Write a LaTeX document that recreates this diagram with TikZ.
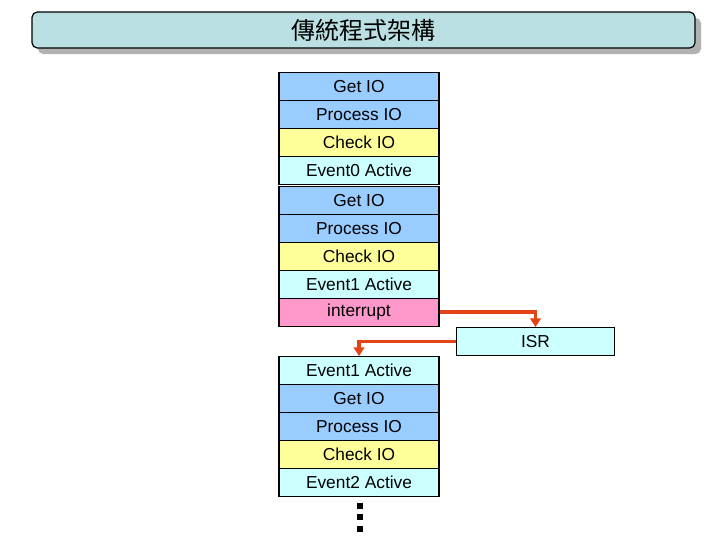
\documentclass[tikz,border=0pt]{standalone}
\usepackage{fontspec}
\setmainfont{Liberation Sans}
\newfontfamily\cjk{Noto Sans CJK TC}
\usetikzlibrary{arrows.meta}
\definecolor{cblue}{RGB}{153,204,255}
\definecolor{cyel}{RGB}{255,255,153}
\definecolor{ccyan}{RGB}{204,255,255}
\definecolor{cpink}{RGB}{255,153,204}
\definecolor{ctitle}{RGB}{186,224,227}
\definecolor{cshadow}{RGB}{178,178,178}
\definecolor{carrow}{RGB}{226,68,22}
\tikzset{
  row/.style={draw=black, line width=0.9pt, minimum width=120pt, minimum height=21pt,
    inner sep=0pt, anchor=north, font=\fontsize{13}{15}\selectfont},
  blue/.style={row, fill=cblue},
  yel/.style={row, fill=cyel},
  cyanrow/.style={row, fill=ccyan},
  pink/.style={row, fill=cpink},
  arr/.style={draw=carrow, line width=2.6pt, -{Triangle[length=6.5pt,width=8pt]}},
  dot/.style={fill=black, minimum size=4.5pt, inner sep=0pt}
}
\begin{document}
\begin{tikzpicture}[x=0.75pt,y=-0.75pt]
\useasboundingbox (0,0) rectangle (720,540);
% title
\fill[cshadow, rounded corners=4pt] (38,18) rectangle (701,54);
\node[draw=black, line width=0.9pt, fill=ctitle, rounded corners=4pt,
  minimum width=497.25pt, minimum height=27pt, inner sep=0pt,
  font=\cjk\fontsize{18}{20}\selectfont] (title) at (363.5,30) {傳統程式架構};
% column 1
\node[blue] (g0) at (359,72) {Get IO};
\node[blue] (p0) at (359,100) {Process IO};
\node[yel] (c0) at (359,128) {Check IO};
\node[cyanrow] (e0) at (359,156) {Event0 Active};
\node[blue] (g1) at (359,185.5) {Get IO};
\node[blue] (p1) at (359,213.5) {Process IO};
\node[yel] (c1) at (359,241.5) {Check IO};
\node[cyanrow] (e1) at (359,269.5) {Event1 Active};
\node[pink] (int) at (359,297.5) {interrupt};
% ISR
\node[cyanrow, minimum width=118.5pt] (isr) at (535.5,327) {ISR};
% column 2
\node[cyanrow] (e1b) at (359,356) {Event1 Active};
\node[blue] (g2) at (359,384) {Get IO};
\node[blue] (p2) at (359,412) {Process IO};
\node[yel] (c2) at (359,440) {Check IO};
\node[cyanrow] (e2) at (359,468) {Event2 Active};
% dots
\node[dot] (d1) at (360,505.5) {};
\node[dot] (d2) at (360,517) {};
\node[dot] (d3) at (360,528.5) {};
% arrows
\draw[arr] (int.east) -| (isr.north);
\draw[arr] (isr.west) -| (e1b.north);
\end{tikzpicture}
\end{document}
